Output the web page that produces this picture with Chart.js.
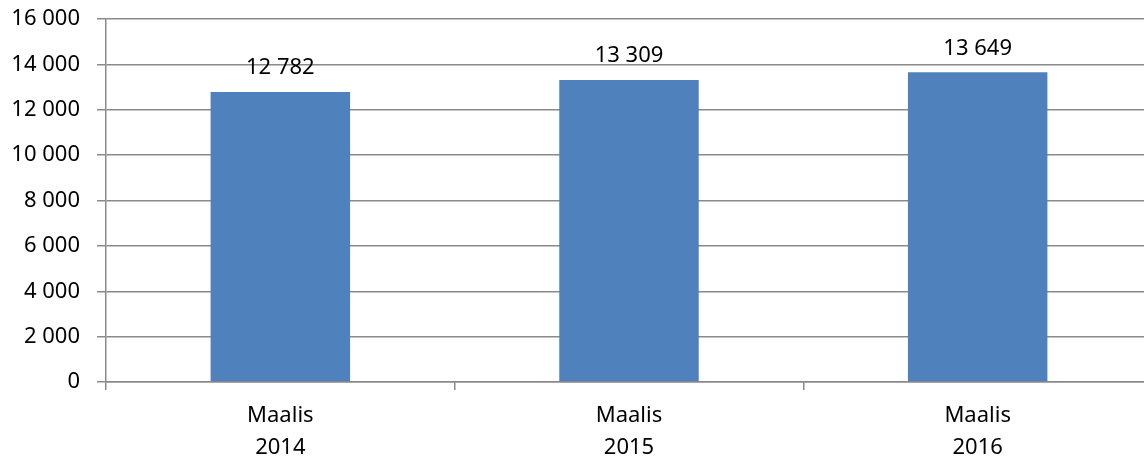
<!DOCTYPE html>
<html>
<head>
<meta charset="utf-8">
<script src="https://cdn.jsdelivr.net/npm/chart.js@4"></script>
<style>
  html, body { margin: 0; padding: 0; background: #fff; overflow: hidden; }
  #wrap { width: 1152px; height: 461px; }
</style>
</head>
<body>
<div id="wrap"><canvas id="chart"></canvas></div>
<script>
const categories = [["Maalis", "2014"], ["Maalis", "2015"], ["Maalis", "2016"]];
const values = [12782, 13309, 13649];
const yTicks = [0, 2000, 4000, 6000, 8000, 10000, 12000, 14000, 16000];

const fmt = (v) => String(v).replace(/\B(?=(\d{3})+(?!\d))/g, " ");
const FONT = "'Noto Sans', sans-serif";
const GRID = "#8a8a8a";

// value labels above the bars
const barLabels = {
    id: "barLabels",
    afterDatasetsDraw(chart) {
        const ctx = chart.ctx;
        const meta = chart.getDatasetMeta(0);
        ctx.save();
        ctx.font = "22px " + FONT;
        ctx.fillStyle = "#000";
        ctx.textAlign = "center";
        ctx.textBaseline = "middle";
        meta.data.forEach((bar, i) => {
            ctx.fillText(fmt(values[i]), bar.x, bar.y - 24);
        });
        ctx.restore();
    },
};

new Chart(document.getElementById("chart"), {
    type: "bar",
    data: {
        labels: categories,
        datasets: [
            {
                data: values,
                backgroundColor: "#4f81bd",
                categoryPercentage: 1,
                barPercentage: 0.4,
            },
        ],
    },
    options: {
        responsive: true,
        maintainAspectRatio: false,
        animation: false,
        layout: { padding: { top: 19, right: 0, left: 0, bottom: 0 } },
        plugins: { legend: { display: false }, tooltip: { enabled: false } },
        scales: {
            x: {
                grid: {
                    offset: true,
                    drawOnChartArea: false,
                    color: GRID,
                    lineWidth: 1.5,
                    tickLength: 8,
                },
                border: { color: GRID, width: 1.5 },
                ticks: {
                    color: "#000",
                    padding: 10,
                    maxRotation: 0,
                    font: { family: FONT, size: 22, lineHeight: 1.45 },
                },
                afterFit: (scale) => {
                    scale.height = 79;
                    scale.paddingLeft = 0;
                    scale.paddingRight = 0;
                },
            },
            y: {
                min: 0,
                max: 16000,
                afterBuildTicks: (scale) => {
                    scale.ticks = yTicks.map((v) => ({ value: v }));
                },
                grid: { color: GRID, lineWidth: 1.5, tickLength: 9 },
                border: { color: GRID, width: 1.5 },
                ticks: {
                    color: "#000",
                    padding: 17,
                    font: { family: FONT, size: 22 },
                    callback: (v) => fmt(v),
                },
                afterFit: (scale) => {
                    scale.width = 106;
                    scale.paddingTop = 0;
                    scale.paddingBottom = 0;
                },
            },
        },
    },
    plugins: [barLabels],
});
</script>
</body>
</html>
